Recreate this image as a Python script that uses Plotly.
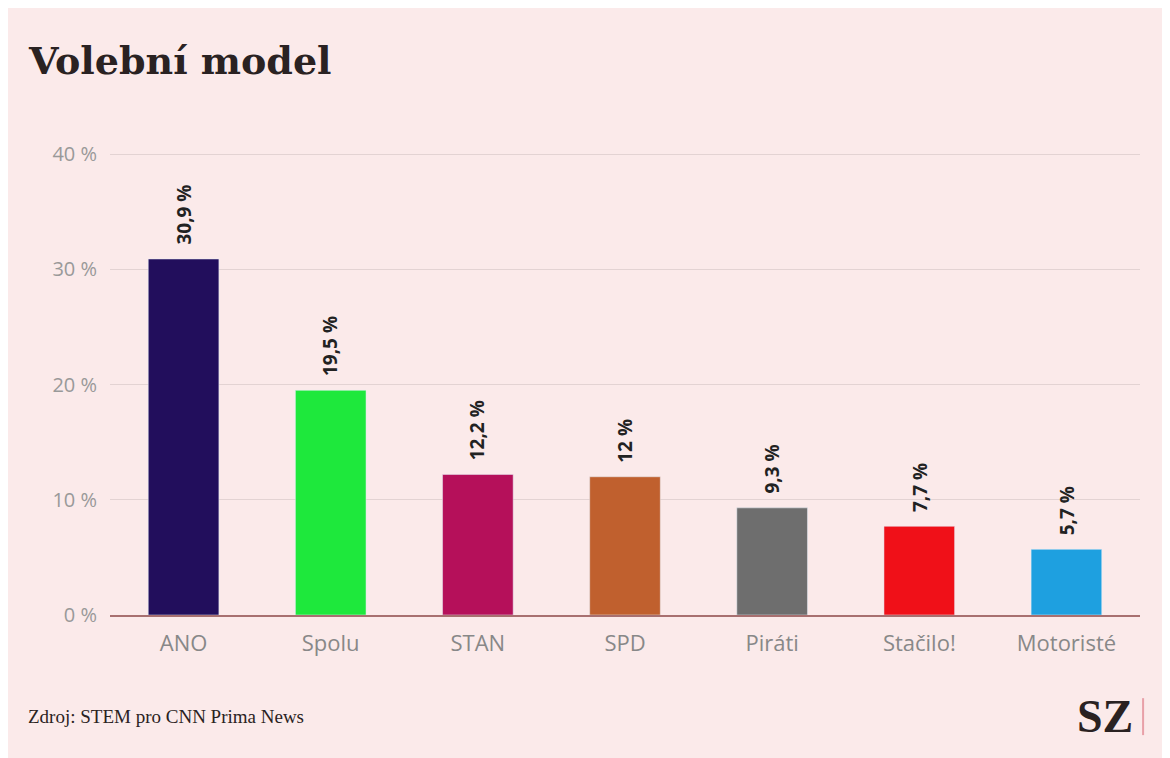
import plotly.graph_objects as go

parties = ['ANO', 'Spolu', 'STAN', 'SPD', 'Piráti', 'Stačilo!', 'Motoristé']
values = [30.9, 19.5, 12.2, 12, 9.3, 7.7, 5.7]
labels = ['30,9 %', '19,5 %', '12,2 %', '12 %', '9,3 %', '7,7 %', '5,7 %']
colors = ['#220e5c', '#1ee83c', '#b5105a', '#c0602e', '#6e6e6e', '#f01018', '#1ea0e0']
tick_vals = [0, 10, 20, 30, 40]
tick_text = ['0 %', '10 %', '20 %', '30 %', '40 %']

bg = '#fbeaea'

fig = go.Figure(go.Bar(x=parties, y=values, marker_color=colors))

# value labels above the bars, rotated
for p, v, t in zip(parties, values, labels):
    fig.add_annotation(x=p, y=v, text=t, textangle=-90, showarrow=False,
                       yanchor='bottom', yshift=12,
                       font=dict(family='Open Sans', size=19, color='#222222', weight='bold'))

fig.update_layout(
    width=1170, height=758,
    paper_bgcolor=bg, plot_bgcolor=bg,
    margin=dict(l=102, r=38, t=145, b=151),
    bargap=0.52, showlegend=False,
    font=dict(family='Open Sans', color='#999999'),
    xaxis=dict(tickfont=dict(size=22, color='#888888'), showline=True,
               linecolor='#a87070', linewidth=2, ticks='', ticklabelstandoff=8),
    yaxis=dict(range=[0, 40.1], tickvals=tick_vals, ticktext=tick_text,
               tickfont=dict(size=20, color='#999999'), gridcolor='#e3d3d3',
               zeroline=False, ticklabelstandoff=12),
)

fig.add_annotation(text='<b>Volební model</b>', xref='paper', yref='paper',
                   x=-0.082, y=1.2, xanchor='left', yanchor='middle', showarrow=False,
                   font=dict(family='DejaVu Serif', size=38, color='#2a2222'))
fig.add_annotation(text='Zdroj: STEM pro CNN Prima News', xref='paper', yref='paper',
                   x=-0.082, y=-0.22, xanchor='left', yanchor='middle', showarrow=False,
                   font=dict(family='Liberation Serif', size=19, color='#2a2222'))
fig.add_annotation(text='<b>SZ</b>', xref='paper', yref='paper',
                   x=0.995, y=-0.22, xanchor='right', yanchor='middle', showarrow=False,
                   font=dict(family='Liberation Serif', size=46, color='#2a2222'))
fig.add_shape(type='line', xref='paper', yref='paper', x0=1.003, x1=1.003,
              y0=-0.26, y1=-0.18, line=dict(color='#e8a0a8', width=2))

fig.write_html('out.html')
